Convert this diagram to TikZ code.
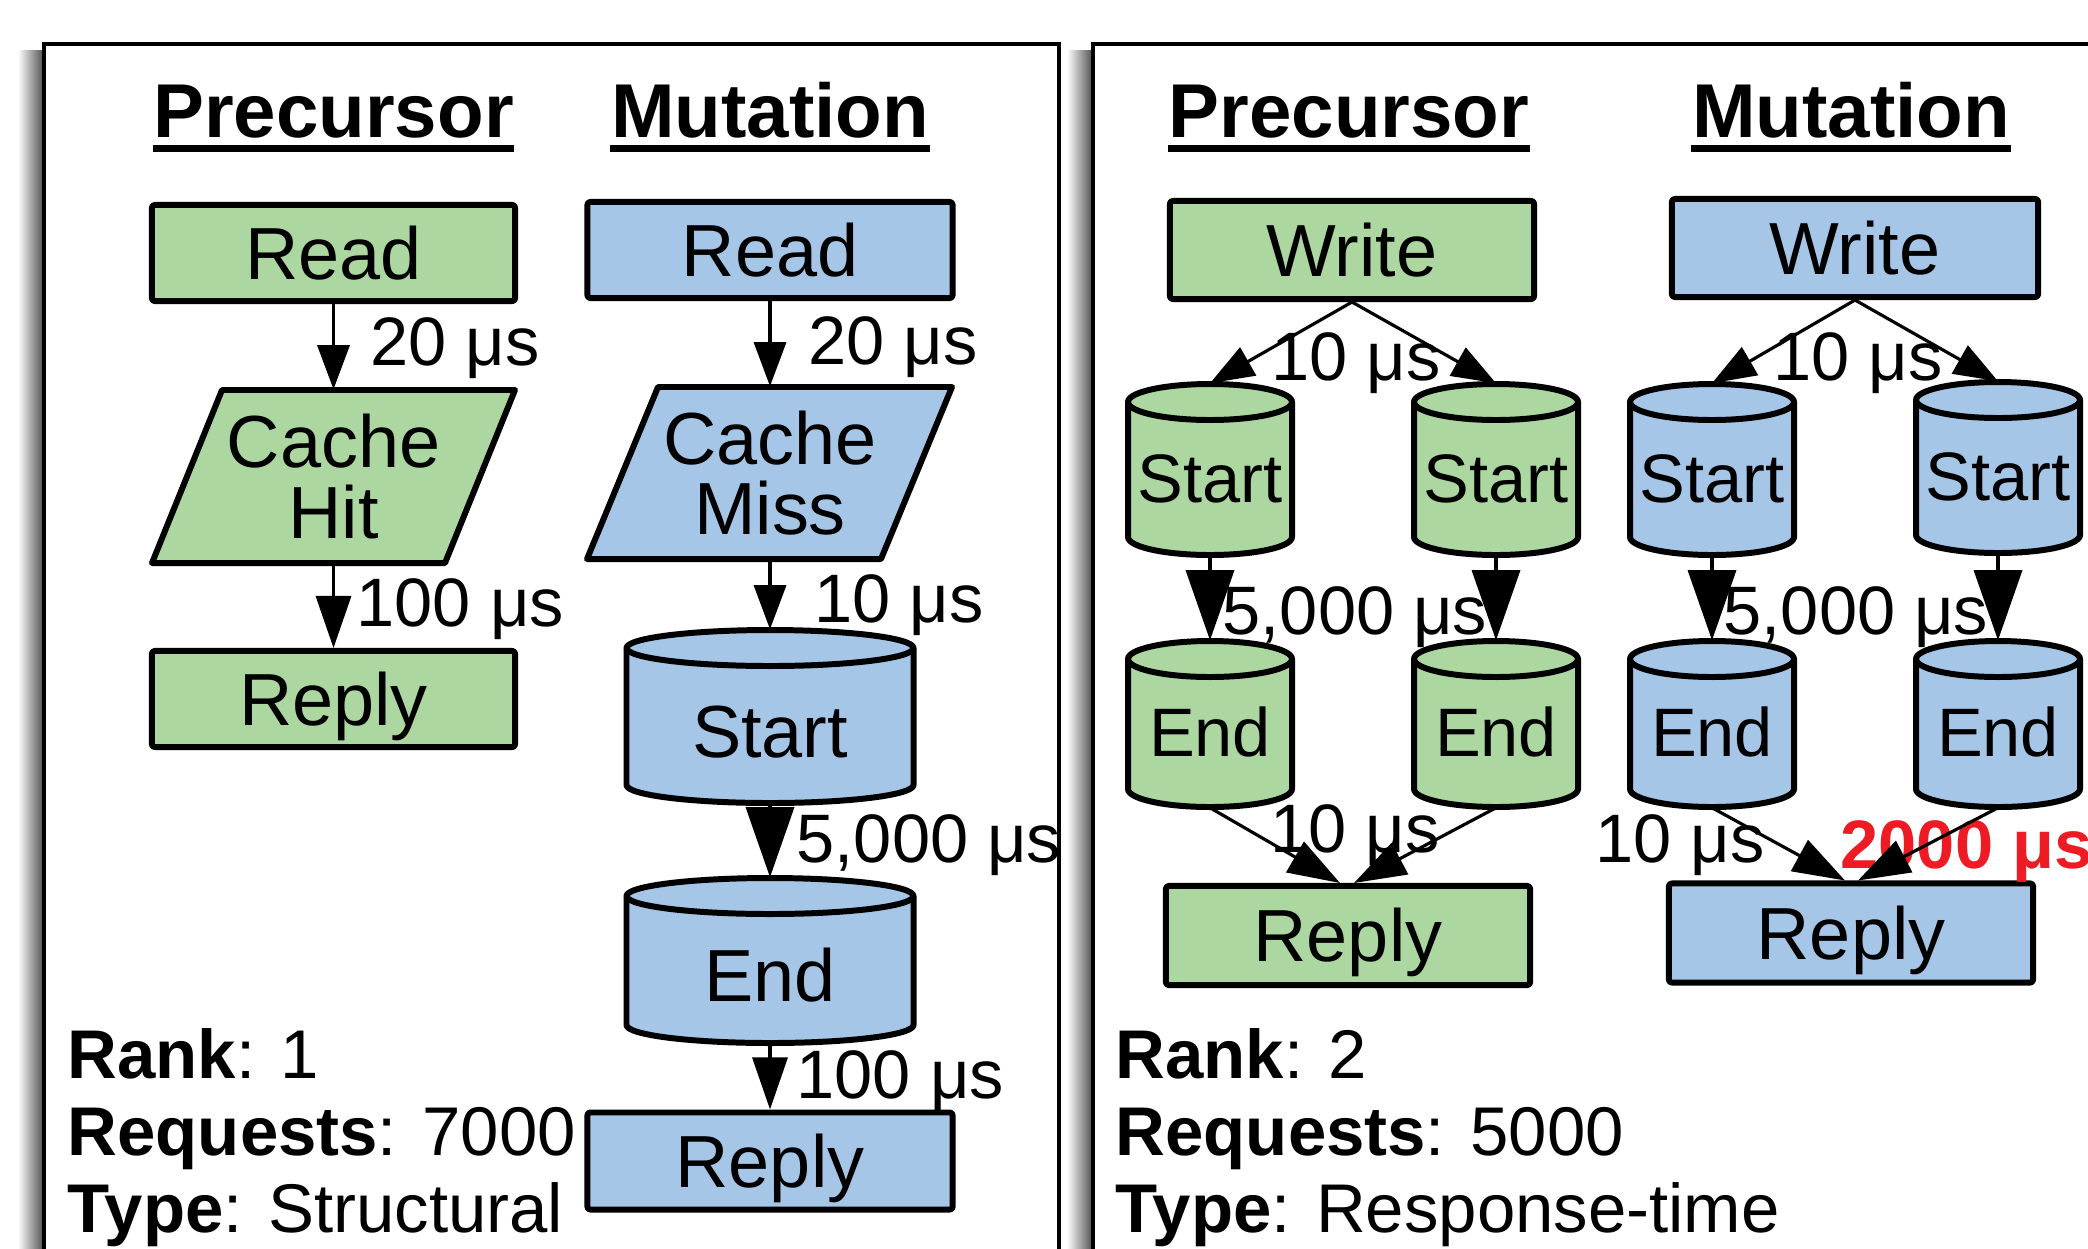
\documentclass[tikz,border=0pt]{standalone}
\usepackage{fontspec}
\setmainfont{Liberation Sans}
\usetikzlibrary{arrows.meta,calc}

\definecolor{pgreen}{RGB}{173,215,160}
\definecolor{mblue}{RGB}{166,198,232}
\definecolor{hot}{RGB}{237,28,36}

\tikzset{
  panel/.style={draw=black, line width=0.9pt, fill=white},
  shapeline/.style={draw=black, line width=1.7pt, line join=round},
  box/.style={shapeline, inner sep=0pt, rounded corners=0.8pt,
    font=\fontsize{21}{20}\selectfont, text height=15pt, text depth=0pt},
  ptext/.style={inner sep=0pt, align=center, font=\fontsize{21}{20}\selectfont},
  bigtxt/.style={inner sep=0pt, font=\fontsize{21}{20}\selectfont,
    text height=15pt, text depth=0pt, yshift=-1.5mm},
  smalltxt/.style={inner sep=0pt, font=\fontsize{19.5}{20}\selectfont,
    text height=14pt, text depth=0pt, yshift=-0.8mm},
  head/.style={inner sep=0pt, anchor=base, font=\bfseries\fontsize{21.7}{24}\selectfont},
  uline/.style={line width=1.8pt},
  lab/.style={inner sep=0pt, font=\fontsize{19.5}{20}\selectfont},
  info/.style={inner sep=0pt, anchor=base west, font=\fontsize{19.6}{22}\selectfont},
  link/.style={line width=0.9pt, -{Triangle[length=4.4mm, width=3.2mm]}},
  linkm/.style={line width=0.9pt, -{Triangle[length=5.2mm, width=3.5mm]}},
  linkl/.style={line width=0.9pt, -{Triangle[length=7mm, width=4.8mm]}},
}

% database drum: name, centre x, top y, bottom y, half width, fill, text, text style
\def\drumb{18}
\newcommand{\drum}[8]{%
  \pgfmathsetmacro\dL{#2-#5}%
  \pgfmathsetmacro\dR{#2+#5}%
  \pgfmathsetmacro\dT{#3+\drumb}%
  \pgfmathsetmacro\dB{#4-\drumb}%
  \pgfmathsetmacro\kx{0.5523*#5}%
  \pgfmathsetmacro\ky{0.5523*\drumb}%
  \filldraw[shapeline, fill=#6] (\dL,\dT) -- (\dL,\dB)
     .. controls (\dL,\dB+\ky) and (#2-\kx,#4) .. (#2,#4)
     .. controls (#2+\kx,#4) and (\dR,\dB+\ky) .. (\dR,\dB)
     -- (\dR,\dT)
     .. controls (\dR,\dT-\ky) and (#2+\kx,#3) .. (#2,#3)
     .. controls (#2-\kx,#3) and (\dL,\dT-\ky) .. (\dL,\dT) -- cycle;
  \draw[shapeline] (\dL,\dT)
     .. controls (\dL,\dT+\ky) and (#2-\kx,#3+2*\drumb) .. (#2,#3+2*\drumb)
     .. controls (#2+\kx,#3+2*\drumb) and (\dR,\dT+\ky) .. (\dR,\dT);
  \node[inner sep=0pt, minimum width={2*#5*0.1mm}, minimum height={(#4-#3)*0.1mm}]
     (#1) at (#2,{(#3+#4)/2}) {};
  \node[#8] (#1-label) at (#1.center) {#7};
}

\begin{document}
\begin{tikzpicture}[x=0.01cm, y=-0.01cm]
\useasboundingbox (0,0) rectangle (2088,1248);
\clip (0,0) rectangle (2088,1248);

% panel shadows and frames
\shade[left color=white, right color=black!70] (18,50) rectangle (44,1260);
\shade[left color=white, right color=black!70] (1067,50) rectangle (1093,1260);
\draw[panel] (44,44) rectangle (1059,1270);
\draw[panel] (1093,44) rectangle (2110,1270);

% ---------------- panel 1 ----------------
\node[head] (h1p) at (333.5,137) {Precursor};
\node[head] (h1m) at (770,137) {Mutation};
\draw[uline] ([yshift=-1.15mm]h1p.base west) -- ([yshift=-1.15mm]h1p.base east);
\draw[uline] ([yshift=-1.15mm]h1m.base west) -- ([yshift=-1.15mm]h1m.base east);

\node[box, fill=pgreen, minimum width=36.3mm, minimum height=9.6mm] (ReadP) at (333.5,253) {Read};
\filldraw[shapeline, fill=pgreen] (152,563) -- (222,390) -- (515,390) -- (445,563) -- cycle;
\node[ptext, minimum width=36.3mm, minimum height=17.3mm] (HitP) at (333.5,476.5) {Cache\\Hit};
\node[box, fill=pgreen, minimum width=36.3mm, minimum height=9.6mm] (ReplyP) at (333.5,699) {Reply};

\node[box, fill=mblue, minimum width=36.5mm, minimum height=9.6mm] (ReadM) at (770,250) {Read};
\filldraw[shapeline, fill=mblue] (587,559) -- (658,387) -- (952,387) -- (881,559) -- cycle;
\node[ptext, minimum width=36.5mm, minimum height=17.2mm] (MissM) at (770,473) {Cache\\Miss};
\drum{StartM}{770}{630}{803}{143.5}{mblue}{Start}{bigtxt}
\drum{EndM}{770}{878}{1043}{143.5}{mblue}{End}{bigtxt}
\node[box, fill=mblue, minimum width=36.5mm, minimum height=9.7mm] (ReplyM) at (770,1161) {Reply};

\node[lab, anchor=base west] (l1a) at (370,365) {20 μs};
\node[lab, anchor=base west] (l1b) at (356,626) {100 μs};
\node[lab, anchor=base west] (l1c) at (808,364) {20 μs};
\node[lab, anchor=base west] (l1d) at (814,622) {10 μs};
\node[lab, anchor=base west] (l1e) at (796,862) {5,000 μs};
\node[lab, anchor=base west] (l1f) at (796,1098) {100 μs};

\draw[link] (ReadP.south) -- (HitP.north);
\draw[linkm] (HitP.south) -- (ReplyP.north);
\draw[link] (ReadM.south) -- (MissM.north);
\draw[link] (MissM.south) -- (StartM.north);
\draw[linkl] (StartM.south) -- (EndM.north);
\draw[linkm] (EndM.south) -- (ReplyM.north);

\node[info] (r1a) at (67,1078) {\textbf{Rank}: 1};
\node[info] (r1b) at (67,1155) {\textbf{Requests}: 7000};
\node[info] (r1c) at (67,1232) {\textbf{Type}: Structural};

% ---------------- panel 2 ----------------
\node[head] (h2p) at (1349,137) {Precursor};
\node[head] (h2m) at (1851,137) {Mutation};
\draw[uline] ([yshift=-1.15mm]h2p.base west) -- ([yshift=-1.15mm]h2p.base east);
\draw[uline] ([yshift=-1.15mm]h2m.base west) -- ([yshift=-1.15mm]h2m.base east);

\node[box, fill=pgreen, minimum width=36.4mm, minimum height=9.8mm] (WriteP) at (1352,250) {Write};
\node[box, fill=mblue, minimum width=36.6mm, minimum height=9.8mm] (WriteM) at (1855,248) {Write};

\drum{StartPL}{1210}{384}{555}{82}{pgreen}{Start}{smalltxt}
\drum{StartPR}{1496}{384}{555}{82}{pgreen}{Start}{smalltxt}
\drum{StartML}{1712}{384}{555}{82}{mblue}{Start}{smalltxt}
\drum{StartMR}{1998}{382}{553}{82}{mblue}{Start}{smalltxt}

\drum{EndPL}{1210}{641}{807}{82}{pgreen}{End}{smalltxt}
\drum{EndPR}{1496}{641}{807}{82}{pgreen}{End}{smalltxt}
\drum{EndML}{1712}{641}{807}{82}{mblue}{End}{smalltxt}
\drum{EndMR}{1998}{641}{807}{82}{mblue}{End}{smalltxt}

\node[box, fill=pgreen, minimum width=36.4mm, minimum height=9.9mm] (ReplyP2) at (1348,935.5) {Reply};
\node[box, fill=mblue, minimum width=36.4mm, minimum height=9.9mm] (ReplyM2) at (1851,933) {Reply};

\node[lab, anchor=base] (l2a) at (1356,380) {10 μs};
\node[lab, anchor=base] (l2b) at (1858,380) {10 μs};
\node[lab, anchor=base] (l2c) at (1355,634) {5,000 μs};
\node[lab, anchor=base] (l2d) at (1856,634) {5,000 μs};
\node[lab, anchor=base] (l2e) at (1355,852) {10 μs};
\node[lab, anchor=base] (l2f) at (1680,862) {10 μs};
\node[lab, anchor=base west, text=hot, font=\bfseries\fontsize{19.5}{20}\selectfont] (l2g) at (1840,868) {2000 μs};

\draw[link] (WriteP.south) -- (StartPL.north);
\draw[link] (WriteP.south) -- (StartPR.north);
\draw[link] (WriteM.south) -- (StartML.north);
\draw[link] (WriteM.south) -- (StartMR.north);
\draw[linkl] (StartPL.south) -- (EndPL.north);
\draw[linkl] (StartPR.south) -- (EndPR.north);
\draw[linkl] (StartML.south) -- (EndML.north);
\draw[linkl] (StartMR.south) -- (EndMR.north);
\draw[linkm] (EndPL.south) -- ([xshift=-0.8mm]ReplyP2.north);
\draw[linkm] (EndPR.south) -- ([xshift=0.6mm]ReplyP2.north);
\draw[linkm] (EndML.south) -- ([xshift=-0.6mm]ReplyM2.north);
\draw[linkm] (EndMR.south) -- ([xshift=0.7mm]ReplyM2.north);

\node[info] (r2a) at (1115,1078) {\textbf{Rank}: 2};
\node[info] (r2b) at (1115,1155) {\textbf{Requests}: 5000};
\node[info] (r2c) at (1115,1232) {\textbf{Type}: Response-time};
\end{tikzpicture}
\end{document}
